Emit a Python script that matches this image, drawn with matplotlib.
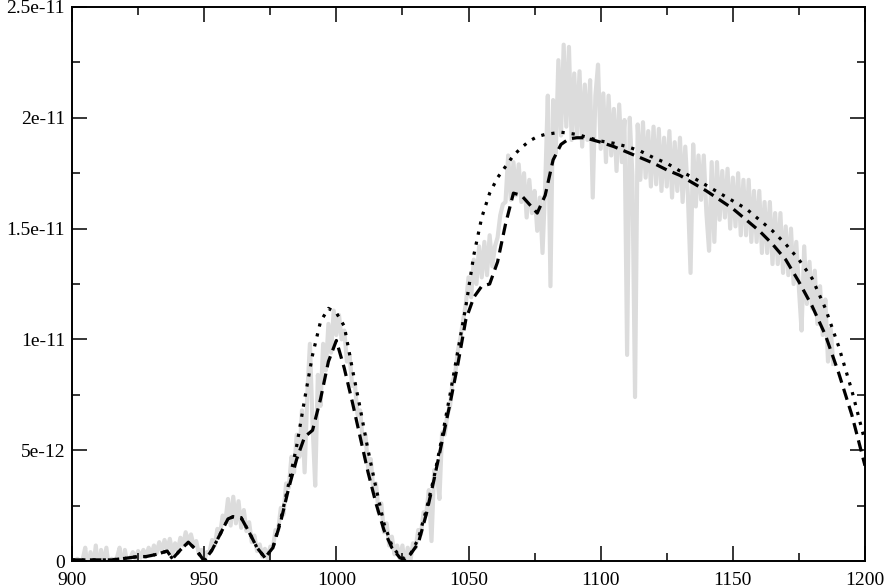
import numpy as np
import matplotlib
matplotlib.use("Agg")
import matplotlib.pyplot as plt
from matplotlib.ticker import MultipleLocator, FixedLocator, FixedFormatter

plt.rcParams['font.family'] = ['Liberation Serif', 'DejaVu Serif']

SCALE = 1e-12  # all flux values below are in units of 1e-12

# observed spectrum (grey), one value per unit of x from 900 to 1188
spec_x = np.arange(900, 1189)
spec_y = [
    0.05, 0.0, 0.1, 0.0, 0.05,                                      # 900-904
    0.6, -0.5, 0.4, -0.3, 0.7, -0.6, 0.5, -0.2, 0.6, -0.4,          # 905-914
    0.1, 0.05, 0.15, 0.6, -0.5, 0.5, -0.2,                          # 915-921
    0.1, 0.4, 0.1, 0.45, 0.15, 0.5, 0.2, 0.6, 0.25, 0.7, 0.35, 0.85, 0.45, 0.95,  # 922-935
    0.5, 1.0, 0.35, 0.8, 0.45, 1.05, 0.7, 1.3, 0.85, 1.2, 0.7, 0.9, 0.3, 0.5, 0.0,  # 936-950
    0.4, 0.4, 0.95, 0.7, 1.45, 1.2, 2.05, 1.75, 2.8, 1.6, 2.9, 1.7, 2.7, 1.5, 2.3,  # 951-965
    1.35, 1.75, 0.85, 1.15, 0.45, 0.75, 0.2, 0.55, 0.1, 0.65,                       # 966-975
    0.6, 1.4, 1.4, 2.4, 2.1, 3.5, 3.3, 4.7, 4.0, 5.7, 4.7, 6.8, 4.0, 7.5, 9.8,      # 976-990
    6.2, 3.4, 8.4, 7.0, 9.8, 8.6, 10.7, 9.4, 11.3, 10.2,                         # 991-1000
    11.1, 10.0, 10.4, 9.0, 9.3, 7.9, 8.0, 6.6, 6.8, 5.4,                         # 1001-1010
    5.7, 4.2, 4.6, 3.2, 3.5, 2.2, 2.6, 1.3, 1.7, 0.7,                            # 1011-1020
    1.1, 0.3, 0.7, 0.1, 0.7, -0.3, 0.6, 0.0, 0.8,                                # 1021-1029
    0.6, 1.4, 1.2, 2.2, 2.1, 3.2, 0.9, 4.1, 4.0, 2.8,                            # 1030-1039
    5.8, 5.7, 6.6, 7.0, 8.1, 8.5, 9.5, 10.1, 10.9,                               # 1040-1048
    11.6, 12.8, 11.9, 13.6, 12.5, 14.2, 12.8, 14.4, 12.9, 14.7, 13.3, 14.2,      # 1049-1060
    14.6, 15.6, 16.1, 16.2, 18.3, 16.3, 18.0, 16.5, 17.9, 16.2,                  # 1061-1070
    17.5, 15.5, 17.2, 15.7, 16.7, 14.9, 16.4, 13.9, 16.9, 21.0,                  # 1071-1080
    12.4, 20.8, 18.4, 22.6, 19.2, 23.3, 19.6, 23.2, 19.0, 22.0,                  # 1081-1090
    19.2, 22.1, 18.7, 21.5, 19.0, 21.7, 16.4, 21.0, 22.4, 18.6,                  # 1091-1100
    21.1, 18.0, 21.0, 18.3, 20.4, 17.6, 20.6, 18.0, 19.9, 9.3,                   # 1101-1110
    20.0, 17.4, 7.4, 19.7, 17.2, 19.8, 17.3, 19.4, 16.9, 19.6,                   # 1111-1120
    17.0, 19.5, 16.7, 19.1, 16.9, 19.4, 16.4, 18.9, 16.7, 19.1,                  # 1121-1130
    16.2, 18.7, 16.5, 13.0, 18.8, 16.0, 18.3, 16.3, 18.3, 15.7,                  # 1131-1140
    14.0, 18.0, 14.4, 18.0, 15.4, 17.6, 15.5, 17.7, 15.0, 17.3,                  # 1141-1150
    15.1, 17.5, 14.7, 17.2, 14.7, 17.2, 14.4, 16.7, 14.4, 16.7,                  # 1151-1160
    13.9, 16.2, 13.9, 16.2, 13.4, 15.7, 13.4, 15.7, 13.0, 15.1,                  # 1161-1170
    12.9, 15.0, 12.5, 14.4, 12.3, 10.4, 14.2, 11.6, 13.5, 11.4,                  # 1171-1180
    13.1, 10.7, 12.4, 10.2, 11.8, 9.0, 10.5, 8.9,                                # 1181-1188
]

# two model curves
model_x = [900, 905, 910, 915, 920, 925, 928, 932, 936, 938, 941, 944, 947, 950,
           953, 956, 959, 961, 964, 967, 970, 973, 976, 979, 982, 985, 988, 991,
           994, 997, 1000, 1003, 1006, 1009, 1012, 1015, 1018, 1021, 1024, 1026,
           1028, 1031, 1034, 1037, 1040, 1043, 1046, 1049, 1052, 1055, 1058, 1061,
           1064, 1067, 1070, 1073, 1076, 1079, 1082, 1085, 1088, 1091, 1094, 1097,
           1100, 1105, 1110, 1115, 1120, 1125, 1130, 1135, 1140, 1145, 1150, 1155,
           1160, 1165, 1170, 1175, 1180, 1185, 1190, 1195, 1200]
model_dashed = [0.05, 0.05, 0.05, 0.05, 0.12, 0.2, 0.2, 0.3, 0.45, 0.1, 0.5, 0.85, 0.5, 0.0,
                0.5, 1.2, 1.9, 2.0, 1.95, 1.3, 0.6, 0.15, 0.6, 1.8, 3.3, 4.6, 5.6, 5.9,
                7.3, 9.0, 9.95, 8.7, 7.2, 5.6, 4.0, 2.6, 1.4, 0.6, 0.15, 0.05,
                0.3, 0.8, 2.1, 3.7, 5.4, 7.1, 8.9, 10.9, 11.9, 12.4, 12.5, 13.5,
                15.2, 16.6, 16.5, 16.1, 15.7, 16.5, 18.1, 18.8, 19.05, 19.1, 19.1, 19.0,
                18.9, 18.7, 18.45, 18.2, 17.95, 17.65, 17.4, 17.05, 16.7, 16.3, 15.9, 15.4,
                14.9, 14.3, 13.6, 12.6, 11.5, 10.2, 8.5, 6.6, 4.3]
model_dotted = [0.05, 0.05, 0.05, 0.05, 0.12, 0.2, 0.2, 0.3, 0.45, 0.1, 0.5, 0.85, 0.5, 0.0,
                0.5, 1.2, 1.9, 2.0, 1.95, 1.3, 0.6, 0.15, 0.6, 1.9, 3.5, 5.2, 7.3, 9.3,
                10.8, 11.4, 11.2, 10.6, 8.7, 6.9, 5.0, 3.3, 1.7, 0.7, 0.2, 0.1,
                0.3, 1.0, 2.3, 3.8, 5.6, 7.5, 9.5, 11.5, 13.8, 15.5, 16.6, 17.3,
                17.8, 18.3, 18.65, 18.95, 19.15, 19.25, 19.3, 19.35, 19.3, 19.25, 19.15, 19.05,
                18.95, 18.85, 18.7, 18.5, 18.2, 17.95, 17.6, 17.3, 16.95, 16.6, 16.25, 15.9,
                15.4, 14.9, 14.3, 13.6, 12.75, 11.4, 9.7, 7.7, 5.4]

y_ticks = [0, 5e-12, 1e-11, 1.5e-11, 2e-11, 2.5e-11]
y_tick_labels = ['0', '5e-12', '1e-11', '1.5e-11', '2e-11', '2.5e-11']

fig = plt.figure(figsize=(8.88, 5.88), dpi=100)
ax = fig.add_axes([0.0811, 0.0459, 0.8930, 0.9422])

ax.plot(spec_x, np.array(spec_y) * SCALE, color='#dcdcdc', lw=3.0, zorder=1)
ax.plot(model_x, np.array(model_dotted) * SCALE, color='black', lw=2.3,
        linestyle=(0, (1, 2.2)), zorder=2)
ax.plot(model_x, np.array(model_dashed) * SCALE, color='black', lw=2.3,
        linestyle=(0, (3.6, 2.0)), zorder=3)

ax.set_xlim(900, 1200)
ax.set_ylim(0, 2.5e-11)
ax.xaxis.set_major_locator(MultipleLocator(50))
ax.xaxis.set_minor_locator(MultipleLocator(25))
ax.yaxis.set_major_locator(FixedLocator(y_ticks))
ax.yaxis.set_major_formatter(FixedFormatter(y_tick_labels))
ax.yaxis.set_minor_locator(MultipleLocator(2.5e-12))

ax.tick_params(which='both', direction='in', top=True, right=True, width=1.1,
               labelsize=14)
ax.tick_params(which='major', length=11, pad=5)
ax.tick_params(which='minor', length=5.8)
ax.tick_params(axis='x', which='major', pad=8)
for s in ax.spines.values():
    s.set_linewidth(1.4)

fig.savefig('out.png', dpi=100)
